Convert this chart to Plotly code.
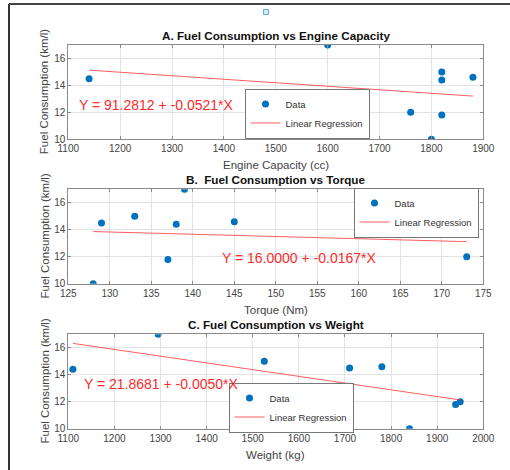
import numpy as np
import plotly.graph_objects as go

# ---- data ----
engine_cc = [1140, 1600, 1760, 1800, 1820, 1820, 1820, 1880]
fuel_a = [14.5, 17.0, 12.0, 10.0, 15.0, 14.4, 11.8, 14.6]

torque_nm = [128, 129, 133, 137, 138, 139, 145, 173]
fuel_b = [10.0, 14.5, 15.0, 11.8, 14.4, 17.0, 14.6, 12.0]

weight_kg = [1110, 1295, 1525, 1710, 1780, 1840, 1940, 1950]
fuel_c = [14.4, 17.0, 15.0, 14.5, 14.6, 10.0, 11.8, 12.0]

titles = ["A. Fuel Consumption vs Engine Capacity",
          "B.  Fuel Consumption vs Torque",
          "C. Fuel Consumption vs Weight"]
xtitles = ["Engine Capacity (cc)", "Torque (Nm)", "Weight (kg)"]
eq_texts = ["Y = 91.2812 + -0.0521*X",
            "Y = 16.0000 + -0.0167*X",
            "Y = 21.8681 + -0.0050*X"]
eq_pos = [(1117, 12.55), (143.3, 11.88), (1130, 13.3)]
xranges = [[1100, 1900], [125, 175], [1100, 2000]]
xdticks = [100, 5, 100]
yticks_vals = [10, 12, 14, 16]

W, H = 510, 470
FONT = "Liberation Sans, Arial, sans-serif"
BLUE = "#0072BD"

def px(x):
    return x / W

def py(y):
    return 1 - y / H

# plot areas in pixels (top, bottom)
x_left, x_right = 68.3, 483.3
rows = [(45.0, 139.3), (189.3, 283.7), (334.3, 428.7)]
# legend centres in pixels
legend_c = [(307, 113.5), (416, 212.5), (291, 407.5)]

fig = go.Figure()
datasets = [(engine_cc, fuel_a), (torque_nm, fuel_b), (weight_kg, fuel_c)]
annotations = []
for i, (xs, ys) in enumerate(datasets):
    ax = "" if i == 0 else str(i + 1)
    leg = "legend" if i == 0 else f"legend{i + 1}"
    xs_a = np.array(xs, float)
    ys_a = np.array(ys, float)
    slope, icpt = np.polyfit(xs_a, ys_a, 1)
    xl = np.array([xs_a.min(), xs_a.max()])
    fig.add_trace(go.Scatter(x=xs, y=ys, mode="markers", name="Data",
                             marker=dict(color=BLUE, size=7),
                             xaxis="x" + ax, yaxis="y" + ax, legend=leg))
    fig.add_trace(go.Scatter(x=xl, y=icpt + slope * xl, mode="lines",
                             name="Linear Regression",
                             line=dict(color="rgba(255,40,40,0.75)", width=1),
                             xaxis="x" + ax, yaxis="y" + ax, legend=leg))
    top, bot = rows[i]
    axis_common = dict(showline=True, mirror="ticks", linecolor="#8a8a8a",
                       linewidth=1, ticks="inside", ticklen=3,
                       tickcolor="#8a8a8a", showgrid=True, gridcolor="#e3e3e3",
                       zeroline=False, automargin=False,
                       tickfont=dict(size=10, color="#444444"))
    fig.update_layout(**{
        "xaxis" + ax: dict(domain=[px(x_left), px(x_right)], range=xranges[i],
                           dtick=xdticks[i], tick0=0,
                           anchor="y" + ax, **axis_common),
        "yaxis" + ax: dict(domain=[py(bot), py(top)], range=[10, 17],
                           tickvals=yticks_vals, anchor="x" + ax,
                           **axis_common),
        leg: dict(x=px(legend_c[i][0]), y=py(legend_c[i][1]),
                  xanchor="center", yanchor="middle", bgcolor="white",
                  bordercolor="#777777", borderwidth=1,
                  font=dict(size=9.5, color="#333333", family=FONT),
                  tracegroupgap=0, itemwidth=30),
    })
    annotations.append(dict(text="<b>" + titles[i] + "</b>", x=px((x_left + x_right) / 2),
                            y=py(top - 10), xref="paper", yref="paper",
                            showarrow=False, xanchor="center", yanchor="middle",
                            font=dict(size=11.7, color="#111111", family=FONT)))
    annotations.append(dict(text=xtitles[i], x=px((x_left + x_right) / 2),
                            y=py(bot + 26), xref="paper", yref="paper",
                            showarrow=False, xanchor="center", yanchor="middle",
                            font=dict(size=11.5, color="#444444", family=FONT)))
    annotations.append(dict(text="Fuel Consumption (km/l)", x=px(44),
                            y=py((top + bot) / 2), xref="paper", yref="paper",
                            showarrow=False, xanchor="center", yanchor="middle",
                            textangle=-90,
                            font=dict(size=11.5, color="#444444", family=FONT)))
    annotations.append(dict(text=eq_texts[i], x=eq_pos[i][0], y=eq_pos[i][1],
                            xref="x" + ax, yref="y" + ax, showarrow=False,
                            xanchor="left", yanchor="middle",
                            font=dict(size=14, color="#ff2a2a", family=FONT)))

shapes = [
    dict(type="line", xref="paper", yref="paper", x0=px(9), x1=px(9),
         y0=0, y1=py(4), line=dict(color="#333333", width=2)),
    dict(type="line", xref="paper", yref="paper", x0=px(9), x1=1,
         y0=py(4), y1=py(4), line=dict(color="#444444", width=2)),
    dict(type="rect", xref="paper", yref="paper", x0=px(263.5), x1=px(268.5),
         y0=py(14.5), y1=py(9.5), line=dict(color="#6fa8dc", width=1),
         fillcolor="#d6e8f7"),
]

fig.update_layout(width=W, height=H,
                  margin=dict(l=0, r=0, t=0, b=0, pad=0, autoexpand=False),
                  paper_bgcolor="white", plot_bgcolor="white",
                  font=dict(family=FONT, color="#333333"),
                  annotations=annotations, shapes=shapes, showlegend=True)

fig.write_html("out.html", config={"displayModeBar": False},
               post_script="document.body.style.margin='0px';")
